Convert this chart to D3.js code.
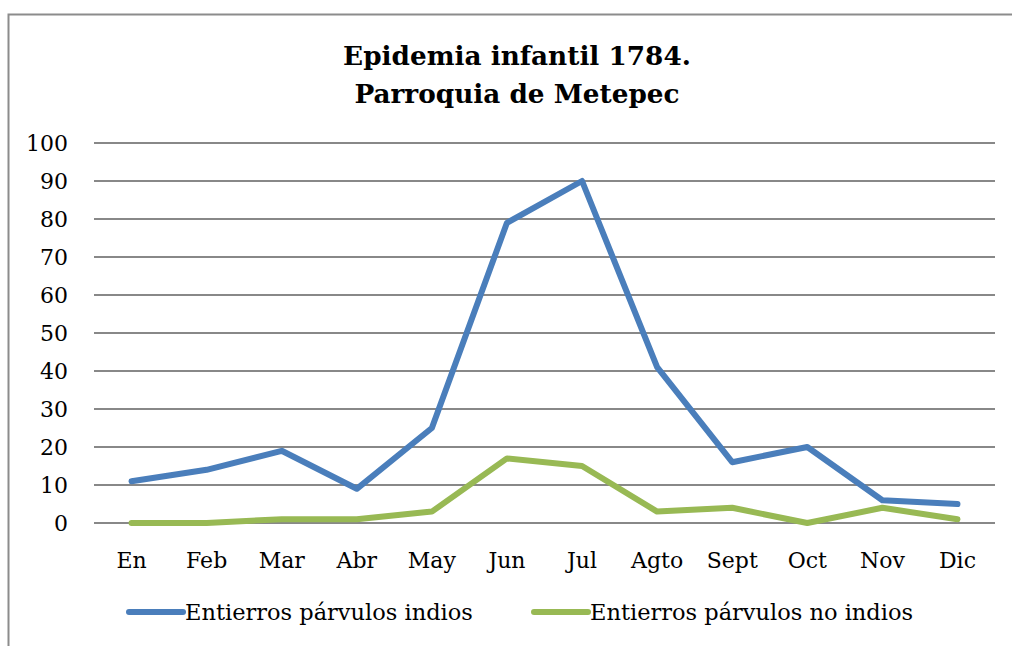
<!DOCTYPE html>
<html>
<head>
<meta charset="utf-8">
<script src="https://cdn.jsdelivr.net/npm/d3@7"></script>
<style>
  body { margin: 0; background: #fff; }
  svg { display: block; }
</style>
</head>
<body>
<div id="chart"></div>
<script>
// months on the x axis
var months = ["En", "Feb", "Mar", "Abr", "May", "Jun", "Jul", "Agto", "Sept", "Oct", "Nov", "Dic"];
// burials per month
var indios = [11, 14, 19, 9, 25, 79, 90, 41, 16, 20, 6, 5];
var noIndios = [0, 0, 1, 1, 3, 17, 15, 3, 4, 0, 4, 1];
var yTicks = [0, 10, 20, 30, 40, 50, 60, 70, 80, 90, 100];
var seriesNames = ["Entierros párvulos indios", "Entierros párvulos no indios"];
var colors = ["#4a7ebb", "#98b954"];

var width = 1012, height = 646;
var font = "'DejaVu Serif', serif";

var svg = d3.select("#chart").append("svg")
    .attr("width", width)
    .attr("height", height);

// outer frame
svg.append("path")
    .attr("d", "M8.5," + height + "V14.5H" + width)
    .attr("fill", "none")
    .attr("stroke", "#8c8c8c")
    .attr("stroke-width", 2);

var x = d3.scaleBand().domain(months).range([94, 995]);
var y = d3.scaleLinear().domain([0, 100]).range([523, 143]);

// gridlines
svg.append("g")
    .selectAll("line")
    .data(yTicks)
    .enter().append("line")
    .attr("x1", 94).attr("x2", 995)
    .attr("y1", function(d) { return y(d); })
    .attr("y2", function(d) { return y(d); })
    .attr("stroke", "#888")
    .attr("stroke-width", 2);

// y axis labels
var yAxis = svg.append("g")
    .attr("transform", "translate(80,0)")
    .call(d3.axisLeft(y).tickValues(yTicks).tickSize(0).tickPadding(12));
yAxis.select(".domain").remove();
yAxis.selectAll("text")
    .attr("font-family", font)
    .attr("font-size", 22)
    .attr("fill", "#000");

// x axis labels
var xAxis = svg.append("g")
    .attr("transform", "translate(0,546)")
    .call(d3.axisBottom(x).tickSize(0).tickPadding(6));
xAxis.select(".domain").remove();
xAxis.selectAll("text")
    .attr("font-family", font)
    .attr("font-size", 22)
    .attr("fill", "#000");

var line = d3.line()
    .x(function(d, i) { return x(months[i]) + x.bandwidth() / 2; })
    .y(function(d) { return y(d); });

[indios, noIndios].forEach(function(s, i) {
    svg.append("path")
        .datum(s)
        .attr("d", line)
        .attr("fill", "none")
        .attr("stroke", colors[i])
        .attr("stroke-width", 6)
        .attr("stroke-linejoin", "round")
        .attr("stroke-linecap", "round");
});

// title
var title = svg.append("text")
    .attr("text-anchor", "middle")
    .attr("font-family", font)
    .attr("font-weight", "bold")
    .attr("font-size", 26.3)
    .attr("fill", "#000");
title.append("tspan").attr("x", 517).attr("y", 65).text("Epidemia infantil 1784.");
title.append("tspan").attr("x", 517).attr("y", 103).text("Parroquia de Metepec");

// legend
var legendX = [129, 534];
var legend = svg.append("g")
    .selectAll("g")
    .data(seriesNames)
    .enter().append("g")
    .attr("transform", function(d, i) { return "translate(" + legendX[i] + ",612)"; });
legend.append("line")
    .attr("x1", 0).attr("x2", 54)
    .attr("stroke", function(d, i) { return colors[i]; })
    .attr("stroke-width", 6)
    .attr("stroke-linecap", "round");
legend.append("text")
    .attr("x", 56)
    .attr("dy", "0.35em")
    .attr("font-family", font)
    .attr("font-size", 22.5)
    .attr("fill", "#000")
    .text(function(d) { return d; });
</script>
</body>
</html>
